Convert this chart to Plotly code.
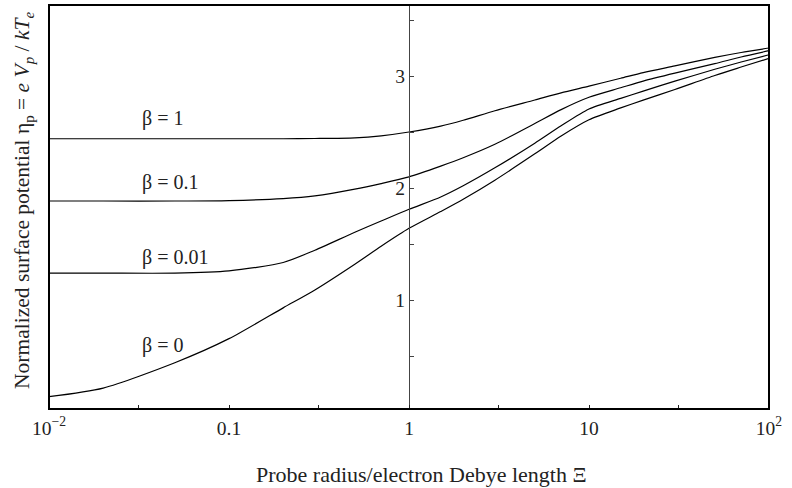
import plotly.graph_objects as go
import numpy as np

# Probe radius / Debye length
xi = [0.01, 0.02, 0.05, 0.1, 0.2, 0.3, 0.5, 0.7, 1, 1.5, 2, 3, 5, 7, 10, 15, 20, 30, 50, 70, 100]

eta_beta1 = [2.44, 2.44, 2.44, 2.44, 2.44, 2.442, 2.448, 2.466, 2.50, 2.553, 2.605, 2.69, 2.786, 2.85,
             2.91, 2.98, 3.03, 3.09, 3.166, 3.21, 3.25]
eta_beta01 = [1.884, 1.884, 1.884, 1.888, 1.906, 1.93, 1.99, 2.04, 2.10, 2.196, 2.27, 2.39, 2.576, 2.70,
              2.81, 2.895, 2.955, 3.026, 3.11, 3.17, 3.226]
eta_beta001 = [1.24, 1.24, 1.24, 1.26, 1.335, 1.445, 1.605, 1.705, 1.81, 1.92, 2.02, 2.18, 2.40, 2.555,
               2.705, 2.80, 2.865, 2.954, 3.06, 3.125, 3.19]
eta_beta0 = [0.137, 0.214, 0.44, 0.655, 0.93, 1.09, 1.32, 1.48, 1.64, 1.79, 1.90, 2.07, 2.305, 2.465,
             2.61, 2.715, 2.785, 2.88, 3.005, 3.08, 3.158]

series = [eta_beta1, eta_beta01, eta_beta001, eta_beta0]
labels = ["β = 1", "β = 0.1", "β = 0.01", "β = 0"]
label_y = [2.625, 2.045, 1.384, 0.598]
label_x = 0.0322

x_tickvals = [0.01, 0.1, 1, 10, 100]
x_ticktext = ["10<sup>−2</sup>", "0.1", "1", "10", "10<sup>2</sup>"]
x_minor = [0.0316, 0.316, 3.16, 31.6]
y_tickvals = [1, 2, 3]
y_ticktext = ["1", "2", "3"]
y_minor = [0.5, 1.5, 2.5, 3.5]

FONT = "Liberation Serif"
TXT = "#222"

fig = go.Figure()
for s in series:
    fig.add_trace(go.Scatter(x=xi, y=s, mode="lines",
                             line=dict(color="black", width=1.2, shape="spline", smoothing=0.7),
                             showlegend=False, hoverinfo="skip"))

for lab, ly in zip(labels, label_y):
    fig.add_annotation(x=np.log10(label_x), y=ly, xref="x", yref="y", text=lab, showarrow=False,
                       xanchor="left", yanchor="middle", font=dict(family=FONT, size=20, color=TXT))

fig.add_annotation(x=0.517, y=-0.163, xref="paper", yref="paper",
                   text="Probe radius/electron Debye length Ξ", showarrow=False,
                   xanchor="center", yanchor="middle", font=dict(family=FONT, size=22, color=TXT))
fig.add_annotation(x=-0.0347, y=0.515, xref="paper", yref="paper", textangle=-90,
                   text="Normalized surface potential η<sub>p</sub> = <i>e V<sub>p</sub></i> / <i>kT<sub>e</sub></i>",
                   showarrow=False, xanchor="center", yanchor="middle",
                   font=dict(family=FONT, size=21.5, color=TXT))

fig.add_shape(type="rect", xref="paper", yref="paper", x0=0, x1=1, y0=0, y1=1,
              line=dict(color="black", width=2), layer="above")

fig.update_layout(
    width=792, height=488,
    margin=dict(l=49, r=23, t=5, b=79),
    paper_bgcolor="white", plot_bgcolor="white",
    font=dict(family=FONT, color=TXT),
    xaxis=dict(type="log", range=[-2, 2], showgrid=False, zeroline=False, showline=False,
               tickmode="array", tickvals=x_tickvals, ticktext=x_ticktext,
               ticks="inside", ticklen=4, tickcolor="#222", tickwidth=1,
               minor=dict(tickmode="array", tickvals=x_minor, ticks="inside", ticklen=4,
                          tickcolor="#222", tickwidth=1, showgrid=False),
               ticklabelstandoff=5,
               tickfont=dict(family=FONT, size=19.5, color=TXT)),
    yaxis=dict(range=[0.027, 3.634], showgrid=False, zeroline=False,
               anchor="free", position=0.5, side="left",
               showline=True, linecolor="#444", linewidth=1,
               tickmode="array", tickvals=y_tickvals, ticktext=y_ticktext,
               ticks="inside", ticklen=4, tickcolor="#444", tickwidth=1,
               minor=dict(tickmode="array", tickvals=y_minor, ticks="inside", ticklen=4,
                          tickcolor="#444", tickwidth=1, showgrid=False),
               tickfont=dict(family=FONT, size=19.5, color=TXT)),
)

fig.write_html("out.html")
